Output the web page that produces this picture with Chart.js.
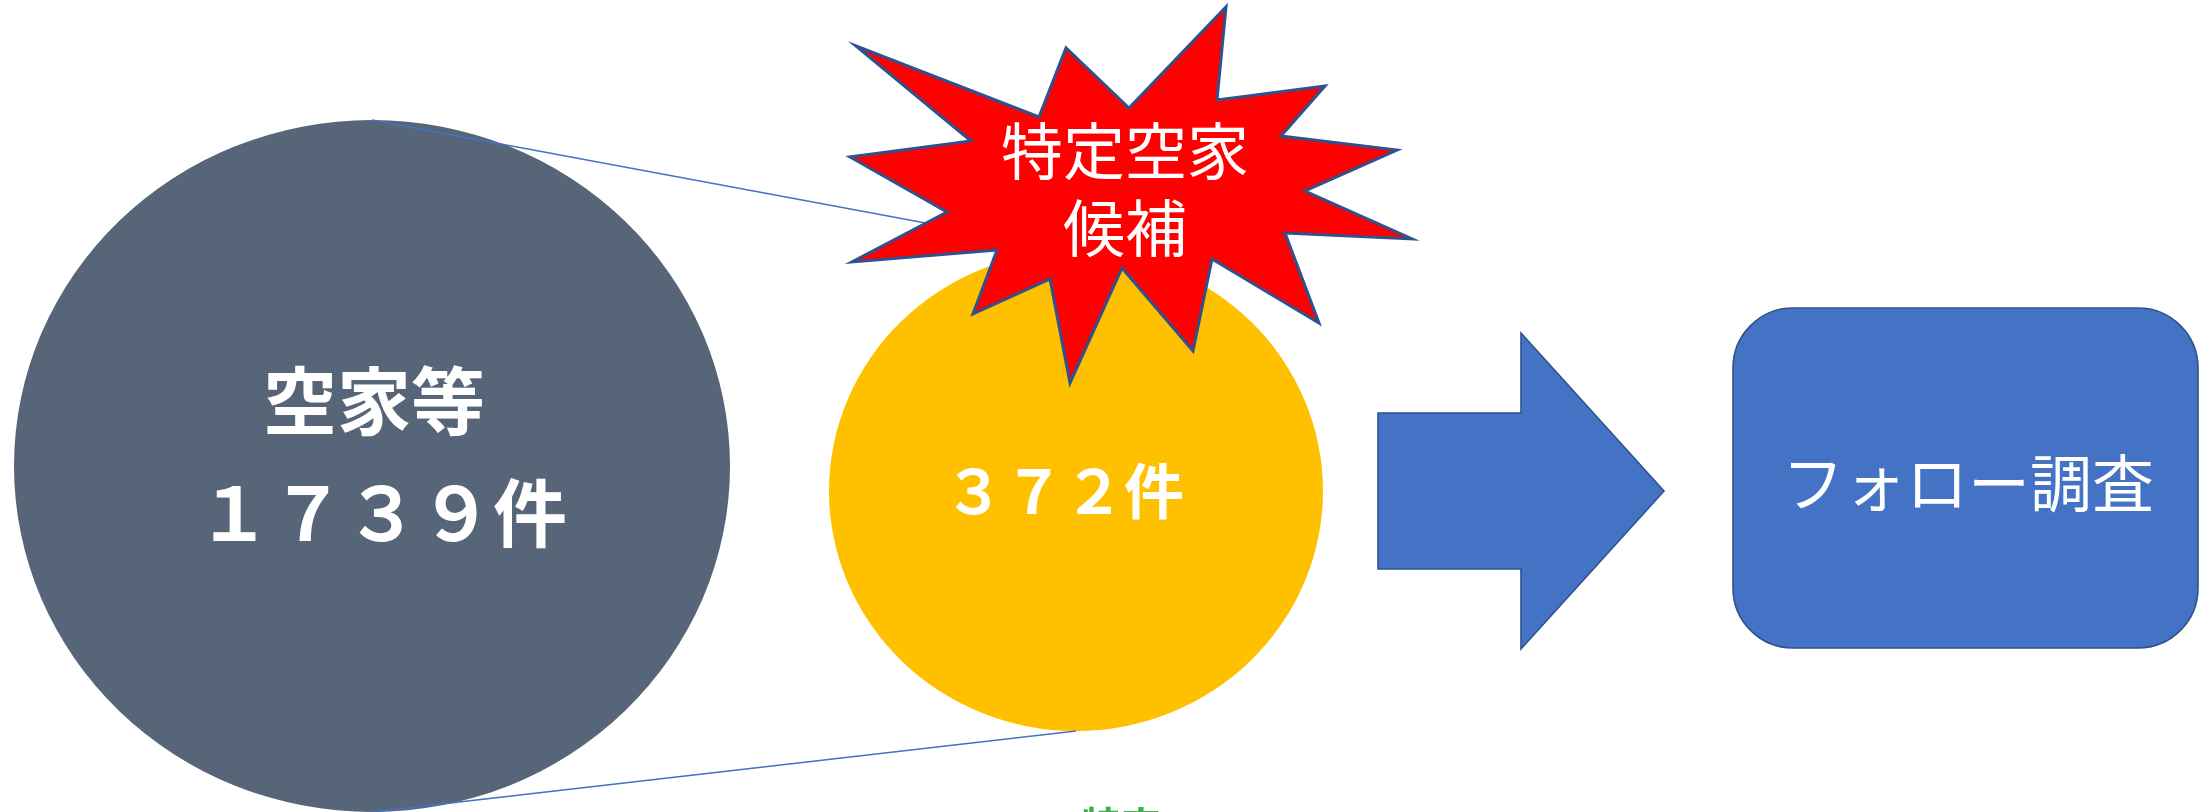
<!DOCTYPE html>
<html lang="ja">
<head>
<meta charset="utf-8">
<script src="https://cdn.jsdelivr.net/npm/chart.js@4.4.1/dist/chart.umd.min.js"></script>
<style>
  html, body { margin: 0; padding: 0; background: #fff; overflow: hidden; }
  #wrap { width: 2200px; height: 812px; }
</style>
</head>
<body>
<div id="wrap"><canvas id="flowChart" width="2200" height="812"></canvas></div>
<script>
// data
const stageNames = ['空家等', '特定空家候補', 'フォロー調査'];
const stageCounts = [1739, 372];
const starLines = ['特定空家', '候補'];

// to full-width digits, as in the original slide
const toZenkaku = n => String(n).replace(/[0-9]/g, d => String.fromCharCode(d.charCodeAt(0) + 0xFEE0));
const countLabels = stageCounts.map(n => toZenkaku(n) + '件');

// layout in axis units (x 0..2200, y 0..812 from the top)
const bigCircle = { cx: 372, cy: 466, rx: 358, ry: 346, color: '#576579' };
const smallCircle = { cx: 1076, cy: 491, rx: 247, ry: 240, color: '#FFC000' };
const starPts = [
    [856, 46], [1039, 117], [1066, 48], [1129, 108], [1226, 7], [1217, 100],
    [1325, 86], [1281, 136], [1397, 150], [1305, 191], [1412, 239], [1285, 233],
    [1319, 323], [1212, 259], [1193, 351], [1122, 268], [1070, 383], [1050, 279],
    [973, 314], [997, 250], [852, 262], [947, 212], [850, 157], [971, 141]
];
const arrowPts = [
    [1378, 413], [1521, 413], [1521, 333], [1664, 491],
    [1521, 649], [1521, 569], [1378, 569]
];
const box = { x: 1733, y: 308, w: 465, h: 340, r: 60 };

const FONT = '"Noto Sans CJK JP", "Noto Sans", sans-serif';

const diagramPlugin = {
    id: 'diagram',
    afterDraw(chart) {
        const ctx = chart.ctx;
        const xs = chart.scales.x;
        const ys = chart.scales.y;
        const px = v => xs.getPixelForValue(v);
        const py = v => ys.getPixelForValue(v);
        const sx = d => Math.abs(px(d) - px(0));
        const sy = d => Math.abs(py(d) - py(0));

        const ellipse = (e) => {
            ctx.beginPath();
            ctx.ellipse(px(e.cx), py(e.cy), sx(e.rx), sy(e.ry), 0, 0, Math.PI * 2);
            ctx.fillStyle = e.color;
            ctx.fill();
        };
        const poly = (pts, fill, stroke, lw) => {
            ctx.beginPath();
            pts.forEach((p, i) => i ? ctx.lineTo(px(p[0]), py(p[1])) : ctx.moveTo(px(p[0]), py(p[1])));
            ctx.closePath();
            ctx.fillStyle = fill;
            ctx.fill();
            ctx.lineWidth = lw;
            ctx.lineJoin = 'miter';
            ctx.strokeStyle = stroke;
            ctx.stroke();
        };
        const text = (str, x, y, size, weight) => {
            ctx.font = `${weight} ${size}px ${FONT}`;
            ctx.fillStyle = '#fff';
            ctx.textAlign = 'center';
            ctx.textBaseline = 'middle';
            ctx.fillText(str, px(x), py(y));
        };

        ctx.save();
        ellipse(bigCircle);
        ellipse(smallCircle);

        // zoom lines from the big circle to the small one
        ctx.strokeStyle = '#4472C4';
        ctx.lineWidth = 1.6;
        ctx.beginPath();
        ctx.moveTo(px(bigCircle.cx), py(bigCircle.cy - bigCircle.ry));
        ctx.lineTo(px(smallCircle.cx), py(smallCircle.cy - smallCircle.ry));
        ctx.moveTo(px(bigCircle.cx), py(bigCircle.cy + bigCircle.ry));
        ctx.lineTo(px(smallCircle.cx), py(smallCircle.cy + smallCircle.ry));
        ctx.stroke();

        poly(starPts, '#FF0000', '#2F528F', 3);
        poly(arrowPts, '#4472C4', '#2F528F', 1.6);

        // rounded box
        ctx.beginPath();
        ctx.roundRect(px(box.x), py(box.y), sx(box.w), sy(box.h), sx(box.r));
        ctx.fillStyle = '#4472C4';
        ctx.fill();
        ctx.lineWidth = 1.6;
        ctx.strokeStyle = '#2F528F';
        ctx.stroke();

        // labels
        text(stageNames[0], 374, 401, 74, 'bold');
        text(countLabels[0], 382, 513, 74, 'bold');
        text(countLabels[1], 1064, 491, 60, 'bold');
        text(starLines[0], 1125, 151, 62, 'normal');
        text(starLines[1], 1125, 228, 62, 'normal');
        text(stageNames[2], 1968, 483, 62, 'normal');

        // clipped green caption at the bottom edge
        ctx.font = `bold 40px ${FONT}`;
        ctx.fillStyle = '#3CB04A';
        ctx.textAlign = 'center';
        ctx.textBaseline = 'top';
        ctx.fillText('特定', px(1121), py(806));
        ctx.restore();
    }
};

new Chart(document.getElementById('flowChart'), {
    type: 'scatter',
    data: { datasets: [{ data: [], pointRadius: 0 }] },
    options: {
        responsive: false,
        animation: false,
        events: [],
        layout: { padding: 0 },
        plugins: { legend: { display: false }, tooltip: { enabled: false } },
        scales: {
            x: { type: 'linear', min: 0, max: 2200, display: false },
            y: { type: 'linear', min: 0, max: 812, reverse: true, display: false }
        }
    },
    plugins: [diagramPlugin]
});
</script>
</body>
</html>
